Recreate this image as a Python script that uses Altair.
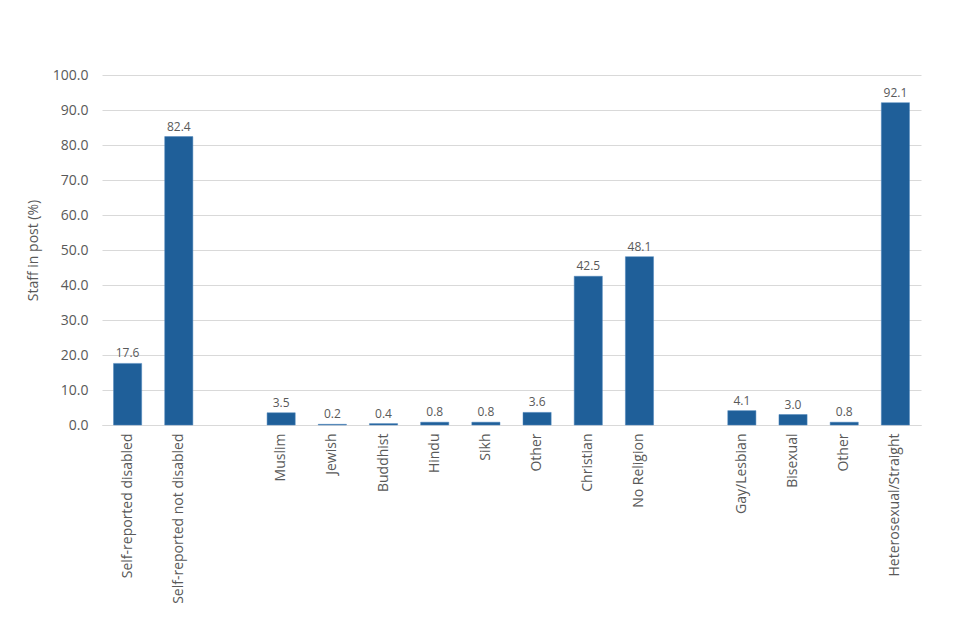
import altair as alt
import pandas as pd

keys = ["k0", "k1", "g1", "k2", "k3", "k4", "k5", "k6", "k7", "k8", "k9", "g2", "k10", "k11", "k12", "k13"]
labels = ["Self-reported disabled", "Self-reported not disabled", "",
          "Muslim", "Jewish", "Buddhist", "Hindu", "Sikh", "Other", "Christian", "No Religion", "",
          "Gay/Lesbian", "Bisexual", "Other", "Heterosexual/Straight"]
values = [17.6, 82.4, None, 3.5, 0.2, 0.4, 0.8, 0.8, 3.6, 42.5, 48.1, None, 4.1, 3.0, 0.8, 92.1]
y_ticks = [0, 10, 20, 30, 40, 50, 60, 70, 80, 90, 100]

df = pd.DataFrame({"key": keys, "label": labels, "value": values})
bars_df = df.dropna()

label_map = "{" + ",".join(f"'{k}':'{l}'" for k, l in zip(keys, labels)) + "}"

font = "Open Sans"
grey = "#595959"

x = alt.X("key:N", sort=keys, scale=alt.Scale(domain=keys, paddingInner=0.45, paddingOuter=0.225),
          axis=alt.Axis(title=None, labelAngle=-90, labelExpr=f"{label_map}[datum.value]",
                        labelFont=font, labelFontSize=14, labelColor=grey, ticks=False,
                        domainColor="#d9d9d9", labelPadding=8, labelLimit=300))
y = alt.Y("value:Q", scale=alt.Scale(domain=[0, 100]),
          axis=alt.Axis(title="Staff in post (%)", format=".1f", values=y_ticks, labelOverlap=False,
                        labelFont=font, labelFontSize=14, labelColor=grey, titleFont=font,
                        titleFontSize=14, titleColor=grey, titleFontWeight="normal",
                        domain=False, ticks=False, gridColor="#d9d9d9", labelPadding=14, titlePadding=12))

base = alt.Chart(bars_df).encode(x=x, y=y)
bars = base.mark_bar(color="#1f5f99", stroke="#4f86bd", strokeWidth=0.5)
text = base.mark_text(dy=-10, font=font, fontSize=12, color=grey).encode(
    text=alt.Text("value:Q", format=".1f"))

chart = alt.layer(bars, text).properties(
    width=819, height=350,
    autosize=alt.AutoSizeParams(type="none"),
    padding={"left": 94, "top": 67, "right": 30, "bottom": 200},
).configure_view(stroke=None)

chart.save("out.html", embed_options={"renderer": "svg", "actions": False})
